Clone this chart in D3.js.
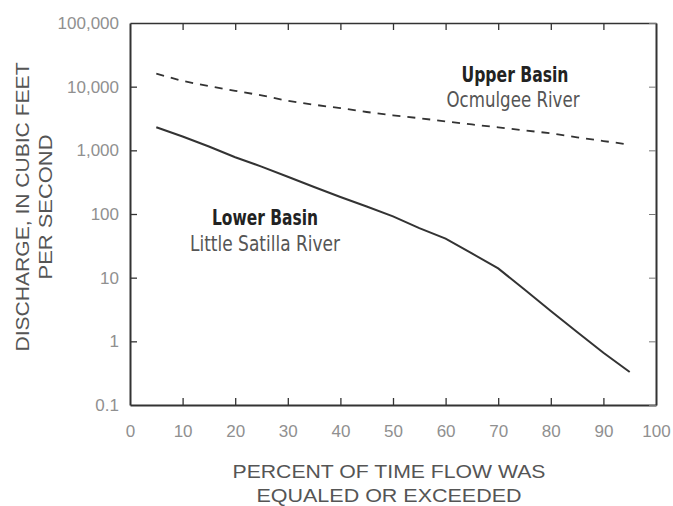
<!DOCTYPE html>
<html>
<head>
<meta charset="utf-8">
<script src="https://cdn.jsdelivr.net/npm/d3@7/dist/d3.min.js"></script>
<style>
  body { margin: 0; background: #fff; }
  svg { display: block; }
</style>
</head>
<body>
<div id="chart"></div>
<script>
// flow duration, percent of time exceeded
const percents = [5, 10, 15, 20, 25, 30, 35, 40, 45, 50, 55, 60, 65, 70, 75, 80, 85, 90, 95]
// Upper Basin, Ocmulgee River (cfs)
const upperBasin = [16000, 12300, 10200, 8600, 7300, 6000, 5200, 4600, 4000, 3550, 3200, 2850, 2550, 2300, 2060, 1850, 1600, 1400, 1230]
// Lower Basin, Little Satilla River (cfs)
const lowerBasin = [2300, 1650, 1150, 780, 555, 385, 266, 185, 131, 92, 60, 41, 24, 14, 6.5, 3.0, 1.4, 0.66, 0.33]

const xTicks = [0, 10, 20, 30, 40, 50, 60, 70, 80, 90, 100]
const yTicks = [0.1, 1, 10, 100, 1000, 10000, 100000]
const yTickLabels = ['0.1', '1', '10', '100', '1,000', '10,000', '100,000']

const W = 673
const H = 506
const padding = {top: 23, right: 17, bottom: 101, left: 130}
const FONT = "'Liberation Sans', Arial, sans-serif"
const NARROW = "'Liberation Sans Narrow', 'DejaVu Sans Condensed', 'Roboto Condensed', sans-serif"
const INK = '#333'

const xScale = d3.scaleLinear().domain([0, 100]).range([padding.left, W - padding.right])
const yScale = d3.scaleLog().domain([0.1, 100000]).range([H - padding.bottom, padding.top])

const svg = d3.select('#chart')
  .append('svg')
  .attr('width', W)
  .attr('height', H)

function styleAxis (g, width) {
  g.select('.domain').attr('stroke', INK).attr('stroke-width', width)
  g.selectAll('.tick line').attr('stroke', INK).attr('stroke-width', 1.3)
  g.selectAll('.tick text')
    .attr('fill', '#909090')
    .attr('font-family', FONT)
    .attr('font-size', 17)
}

// bottom axis
svg.append('g')
  .attr('transform', `translate(0,${H - padding.bottom})`)
  .call(d3.axisBottom(xScale).tickValues(xTicks).tickSizeInner(-7).tickSizeOuter(0).tickPadding(20))
  .call(g => styleAxis(g, 2))
  .call(g => g.selectAll('.tick').filter(d => d === 0 || d === 100).select('line').remove())

// top axis
svg.append('g')
  .attr('transform', `translate(0,${padding.top})`)
  .call(d3.axisTop(xScale).tickValues(xTicks).tickSizeInner(-7).tickSizeOuter(0).tickFormat(''))
  .call(g => styleAxis(g, 1.5))
  .call(g => g.selectAll('.tick').filter(d => d === 0 || d === 100).select('line').remove())

// left axis
svg.append('g')
  .attr('transform', `translate(${padding.left},0)`)
  .call(d3.axisLeft(yScale).tickValues(yTicks).tickSizeInner(-7).tickSizeOuter(0).tickPadding(11)
    .tickFormat((d, i) => yTickLabels[i]))
  .call(g => styleAxis(g, 2))
  .call(g => g.selectAll('.tick').filter((d, i) => i === 0 || i === yTicks.length - 1).select('line').remove())

// right axis
svg.append('g')
  .attr('transform', `translate(${W - padding.right},0)`)
  .call(d3.axisRight(yScale).tickValues(yTicks).tickSizeInner(-7).tickSizeOuter(0).tickFormat(''))
  .call(g => styleAxis(g, 2))
  .call(g => g.selectAll('.tick line').attr('stroke', '#777').attr('stroke-width', 1))

const line = d3.line()
  .x((d, i) => xScale(percents[i]))
  .y(d => yScale(d))

svg.append('path')
  .attr('d', line(upperBasin))
  .attr('fill', 'none')
  .attr('stroke', INK)
  .attr('stroke-width', 1.8)
  .attr('stroke-dasharray', '8,7')

svg.append('path')
  .attr('d', line(lowerBasin))
  .attr('fill', 'none')
  .attr('stroke', INK)
  .attr('stroke-width', 2)

// curve labels
const labels = [
  {text: 'Upper Basin', x: 515, y: 82, bold: true, len: 107},
  {text: 'Ocmulgee River', x: 513, y: 107, bold: false, len: 133},
  {text: 'Lower Basin', x: 265, y: 225, bold: true, len: 106},
  {text: 'Little Satilla River', x: 265, y: 251, bold: false, len: 150}
]
svg.selectAll('text.curve_label')
  .data(labels)
  .enter()
  .append('text')
  .classed('curve_label', true)
  .text(d => d.text)
  .attr('x', d => d.x).attr('y', d => d.y)
  .attr('text-anchor', 'middle')
  .attr('font-family', NARROW)
  .attr('font-size', 21)
  .attr('font-weight', d => d.bold ? 'bold' : 'normal')
  .attr('fill', d => d.bold ? '#222' : '#555')
  .attr('textLength', d => d.len)
  .attr('lengthAdjust', 'spacingAndGlyphs')

// axis titles
const xTitle = ['PERCENT OF TIME FLOW WAS', 'EQUALED OR EXCEEDED']
svg.selectAll('text.x_title')
  .data(xTitle)
  .enter()
  .append('text')
  .classed('x_title', true)
  .text(d => d)
  .attr('x', 389)
  .attr('y', (d, i) => 478 + i * 24)
  .attr('text-anchor', 'middle')
  .attr('font-family', FONT)
  .attr('font-size', 19)
  .attr('fill', '#555')
  .attr('textLength', (d, i) => i === 0 ? 313 : 265)
  .attr('lengthAdjust', 'spacingAndGlyphs')

const yTitle = ['DISCHARGE, IN CUBIC FEET', 'PER SECOND']
svg.selectAll('text.y_title')
  .data(yTitle)
  .enter()
  .append('text')
  .classed('y_title', true)
  .text(d => d)
  .attr('transform', (d, i) => `translate(${29 + i * 23},207) rotate(-90)`)
  .attr('text-anchor', 'middle')
  .attr('font-family', FONT)
  .attr('font-size', 19)
  .attr('fill', '#555')
  .attr('textLength', (d, i) => i === 0 ? 289 : 145)
  .attr('lengthAdjust', 'spacingAndGlyphs')
</script>
</body>
</html>
